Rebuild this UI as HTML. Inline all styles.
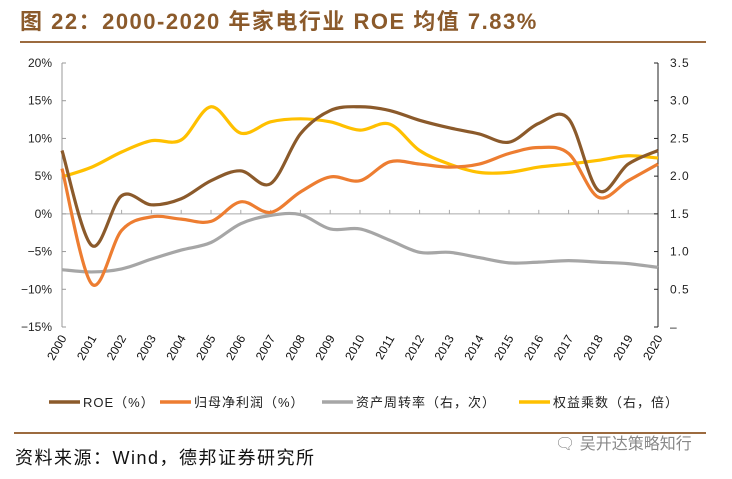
<!DOCTYPE html>
<html><head><meta charset="utf-8"><style>
body{margin:0;background:#fff;width:732px;height:474px;overflow:hidden;font-family:"Liberation Sans","Noto Sans CJK SC",sans-serif}
</style></head><body>
<svg width="732" height="474" xmlns="http://www.w3.org/2000/svg">
<text x="20" y="29" font-size="22" font-weight="bold" fill="#8B5A2B" letter-spacing="1.5" font-family="Liberation Sans,Noto Sans CJK SC,sans-serif">图 22：2000-2020 年家电行业 ROE 均值 7.83%</text>
<line x1="20" y1="42" x2="706" y2="42" stroke="#9C6B3F" stroke-width="2"/>
<g id="axes"></g>
<g id="series"></g>
<g id="legend" font-size="12" fill="#222"></g>
<line x1="14" y1="433" x2="706" y2="433" stroke="#9C6B3F" stroke-width="2"/>
<text x="15" y="464" font-size="18" letter-spacing="1.5" fill="#111">资料来源：Wind，德邦证券研究所</text>
<text x="555" y="449" font-size="16" fill="#888">🗨 吴开达策略知行</text>
</svg>
<script>
const years=["2000","2001","2002","2003","2004","2005","2006","2007","2008","2009","2010","2011","2012","2013","2014","2015","2016","2017","2018","2019","2020"];
const roe=[8.4,-4.2,2.4,1.2,2.0,4.4,5.7,4.0,10.6,13.7,14.2,13.7,12.4,11.4,10.6,9.5,12.0,12.6,3.1,6.6,8.4];
const netProfit=[6.0,-9.3,-2.2,-0.4,-0.7,-1.0,1.6,0.2,2.9,4.9,4.4,6.9,6.6,6.2,6.6,8.0,8.8,8.0,2.2,4.4,6.6];
const turnover=[0.76,0.73,0.77,0.90,1.02,1.12,1.37,1.48,1.49,1.30,1.30,1.15,0.99,0.99,0.92,0.85,0.86,0.88,0.86,0.84,0.79];
const multiplier=[1.99,2.12,2.32,2.47,2.48,2.92,2.57,2.72,2.76,2.72,2.61,2.69,2.34,2.16,2.05,2.05,2.12,2.16,2.21,2.27,2.24];
const leftTicks=[20,15,10,5,0,-5,-10,-15];
const rightTicks=["3.5","3.0","2.5","2.0","1.5","1.0","0.5","–"];
const rightVals=[3.5,3.0,2.5,2.0,1.5,1.0,0.5,0];
const NS="http://www.w3.org/2000/svg";
const X0=62,X1=658,YT=63,YB=327;
const xs=i=>X0+i*(X1-X0)/(years.length-1);
const yl=v=>YT+(20-v)*(YB-YT)/35;
const yr=v=>YT+(3.5-v)*(YB-YT)/3.5;
function mk(tag,attrs,parent){const e=document.createElementNS(NS,tag);for(const k in attrs)e.setAttribute(k,attrs[k]);parent.appendChild(e);return e;}
const ax=document.getElementById('axes');
let l=mk('line',{x1:X0,y1:YT,x2:X0,y2:YB,stroke:'#999'},ax);


l=mk('line',{x1:X1,y1:YT,x2:X1,y2:YB,stroke:'#222'},ax);


l=mk('line',{x1:X0,y1:yl(0),x2:X1,y2:yl(0),stroke:'#aaa'},ax);


leftTicks.forEach(v=>{const y=yl(v);mk('line',{x1:X0,y1:y,x2:X0+4,y2:y,stroke:'#999'},ax);
const t=mk('text',{x:X0-10,y:y+4,'text-anchor':'end','font-size':12,fill:'#222'},ax);t.textContent=(v<0?'−'+(-v):v)+'%';

});
rightVals.forEach((v,i)=>{const y=yr(v);mk('line',{x1:X1-4,y1:y,x2:X1,y2:y,stroke:'#222'},ax);
const t=mk('text',{x:X1+12,y:y+4,'font-size':12,fill:'#222','letter-spacing':'1'},ax);t.textContent=rightTicks[i];

});
years.forEach((yv,i)=>{const x=xs(i);if(i>0&&i<years.length-1)mk('line',{x1:x,y1:yl(0),x2:x,y2:yl(0)-4,stroke:'#aaa'},ax);
const t=mk('text',{x:x+5,y:338,'text-anchor':'end','font-size':12,fill:'#111',transform:`rotate(-60 ${x+5} 338)`},ax);t.textContent=yv;

});
function path(vals,yf){const p=vals.map((v,i)=>[xs(i),yf(v)]);let d=`M${p[0][0]},${p[0][1]}`;
for(let i=0;i<p.length-1;i++){const a=p[Math.max(0,i-1)],b=p[i],c=p[i+1],e=p[Math.min(p.length-1,i+2)];
d+=` C${b[0]+(c[0]-a[0])/6},${b[1]+(c[1]-a[1])/6} ${c[0]-(e[0]-b[0])/6},${c[1]-(e[1]-b[1])/6} ${c[0]},${c[1]}`;}return d;}
const sg=document.getElementById('series');
const defs=[[turnover,yr,'#A6A6A6','line-asset-turnover'],[multiplier,yr,'#FFC000','line-equity-multiplier'],[netProfit,yl,'#ED7D31','line-net-profit'],[roe,yl,'#8B5A2B','line-roe']];
defs.forEach(d=>{const e=mk('path',{d:path(d[0],d[1]),fill:'none',stroke:d[2],'stroke-width':3.2},sg);

});
const lg=document.getElementById('legend');
[[49,'#8B5A2B','ROE（%）','legend-roe'],[160,'#ED7D31','归母净利润（%）','legend-net-profit'],[322,'#A6A6A6','资产周转率（右，次）','legend-asset-turnover'],[519,'#FFC000','权益乘数（右，倍）','legend-equity-multiplier']].forEach(d=>{
const g=mk('g',{},lg);


mk('line',{x1:d[0],y1:402,x2:d[0]+31,y2:402,stroke:d[1],'stroke-width':3.5},g);
const t=mk('text',{x:d[0]+34,y:407,'font-size':13,'letter-spacing':'1',fill:'#222'},g);t.textContent=d[2];});
</script>
</body></html>
